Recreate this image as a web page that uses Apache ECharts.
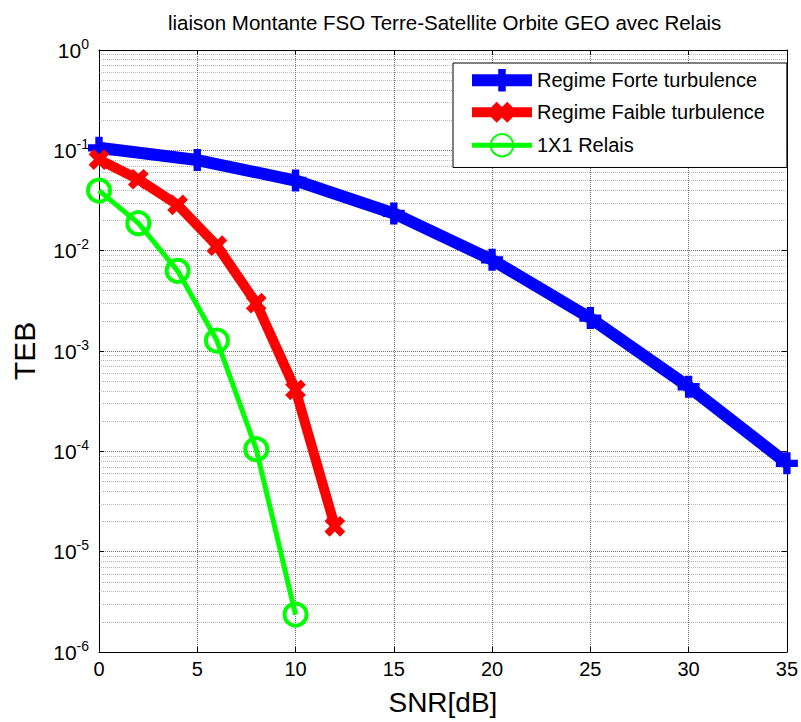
<!DOCTYPE html>
<html>
<head>
<meta charset="utf-8">
<script src="https://cdn.jsdelivr.net/npm/echarts@6/dist/echarts.min.js"></script>
<style>html,body{margin:0;padding:0;background:#fff;}#c{width:801px;height:722px;}</style>
</head>
<body>
<div id="c"></div>
<script>
var titleText = 'liaison Montante FSO Terre-Satellite Orbite GEO avec Relais';
var xName = 'SNR[dB]';
var yName = 'TEB';
var seriesNames = ['Regime Forte turbulence', 'Regime Faible turbulence', '1X1 Relais'];

var xForte = [0, 5, 10, 15, 20, 25, 30, 35];
var yForte = [0.106, 0.080, 0.050, 0.0235, 0.0081, 0.00213, 0.00044, 0.000076];

var xFaible = [0, 2, 4, 6, 8, 10, 12];
var yFaible = [0.081, 0.0515, 0.0286, 0.0112, 0.0030, 0.00041, 0.0000179];

var xRelais = [0, 2, 4, 6, 8, 10];
var yRelais = [0.0397, 0.0188, 0.0063, 0.00127, 0.000105, 0.00000236];

var xRange = [0, 35];
var minorMultipliers = [2, 3, 4, 5, 6, 7, 8, 9];
var minorDecades = [-6, -5, -4, -3, -2, -1];

function pairs(xs, ys) { return xs.map(function (x, i) { return [x, ys[i]]; }); }

var minorLines = [];
minorDecades.forEach(function (d) {
  minorMultipliers.forEach(function (m) {
    var v = m * Math.pow(10, d);
    minorLines.push({ coords: [[xRange[0], v], [xRange[1], v]] });
  });
});

var FONT = '"Liberation Sans", Arial, Helvetica, sans-serif';
var plusPath = 'path://M-1,-3L1,-3L1,-1L3,-1L3,1L1,1L1,3L-1,3L-1,1L-3,1L-3,-1L-1,-1Z';
var gridStyle = { color: '#707070', type: [1, 1], width: 1 };

var chart = echarts.init(document.getElementById('c'), null, { renderer: 'svg' });
chart.setOption({
  backgroundColor: '#fff',
  animation: false,
  textStyle: { fontFamily: FONT },
  title: {
    text: titleText, left: 163, top: 7,
    textStyle: { fontSize: 20.5, fontWeight: 'normal', color: '#000', fontFamily: FONT }
  },
  grid: { left: 99, right: 12, top: 50, bottom: 70, show: false },
  legend: {
    orient: 'vertical', left: 453, top: 63,
    backgroundColor: '#fff', borderColor: '#000', borderWidth: 1,
    padding: [6, 22, 10, 13], itemWidth: 60, itemHeight: 28, itemGap: 5,
    textStyle: { fontSize: 20, color: '#000', fontFamily: FONT },
    data: [
      { name: seriesNames[0], lineStyle: { width: 12, color: '#0000ff' } },
      { name: seriesNames[1], lineStyle: { width: 10, color: '#ff0000' } },
      { name: seriesNames[2], lineStyle: { width: 5, color: '#00ff00' } }
    ],
    z: 10
  },
  xAxis: [{
    type: 'value', min: 0, max: 35, interval: 5, position: 'bottom',
    name: xName, nameLocation: 'middle', nameGap: 36,
    nameTextStyle: { fontSize: 28, color: '#000', fontFamily: FONT },
    axisLine: { show: true, lineStyle: { color: '#000', width: 1 } },
    axisTick: { show: true, inside: true, length: 5, lineStyle: { color: '#000' } },
    axisLabel: { fontSize: 20, color: '#000', margin: 7, fontFamily: FONT },
    splitLine: { show: true, lineStyle: gridStyle }
  }, {
    type: 'value', min: 0, max: 35, interval: 5, position: 'top',
    axisLine: { show: true, onZero: false, lineStyle: { color: '#000', width: 1 } },
    axisTick: { show: true, inside: true, length: 5, lineStyle: { color: '#000' } },
    axisLabel: { show: false }, splitLine: { show: false }
  }],
  yAxis: [{
    type: 'log', logBase: 10, min: 1e-6, max: 1, position: 'left',
    name: yName, nameLocation: 'middle', nameGap: 60,
    nameTextStyle: { fontSize: 30, color: '#000', fontFamily: FONT },
    axisLine: { show: true, onZero: false, lineStyle: { color: '#000', width: 1 } },
    axisTick: { show: true, inside: true, length: 5, lineStyle: { color: '#000' } },
    axisLabel: {
      margin: 10, color: '#000',
      formatter: function (v) {
        var e = Math.round(Math.log10(v));
        return '{b|10}{e|' + e + '}';
      },
      rich: {
        b: { fontSize: 21, color: '#000', fontFamily: FONT },
        e: { fontSize: 14, color: '#000', fontFamily: FONT, padding: [0, 0, 13, 0] }
      }
    },
    splitLine: { show: true, lineStyle: gridStyle }
  }, {
    type: 'log', logBase: 10, min: 1e-6, max: 1, position: 'right',
    axisLine: { show: true, onZero: false, lineStyle: { color: '#000', width: 1 } },
    axisTick: { show: true, inside: true, length: 5, lineStyle: { color: '#000' } },
    axisLabel: { show: false }, splitLine: { show: false }
  }],
  series: [{
    name: 'minorGrid', type: 'lines', coordinateSystem: 'cartesian2d',
    xAxisIndex: 0, yAxisIndex: 0, silent: true, z: 1,
    lineStyle: gridStyle, data: minorLines
  }, {
    name: seriesNames[0], type: 'line', data: pairs(xForte, yForte),
    lineStyle: { color: '#0000ff', width: 12 },
    itemStyle: { color: '#0000ff' },
    symbol: plusPath, symbolSize: 22, showAllSymbol: true, z: 5
  }, {
    name: seriesNames[1], type: 'line', data: pairs(xFaible, yFaible),
    lineStyle: { color: '#ff0000', width: 10 },
    itemStyle: { color: '#ff0000' },
    symbol: plusPath, symbolRotate: 45, symbolSize: 22, showAllSymbol: true, z: 6
  }, {
    name: seriesNames[2], type: 'line', data: pairs(xRelais, yRelais),
    lineStyle: { color: '#00ff00', width: 5 },
    itemStyle: { color: 'rgba(0,0,0,0)', borderColor: '#00ff00', borderWidth: 4 },
    symbol: 'circle', symbolSize: 22, showAllSymbol: true, z: 7
  }]
});
</script>
</body>
</html>
